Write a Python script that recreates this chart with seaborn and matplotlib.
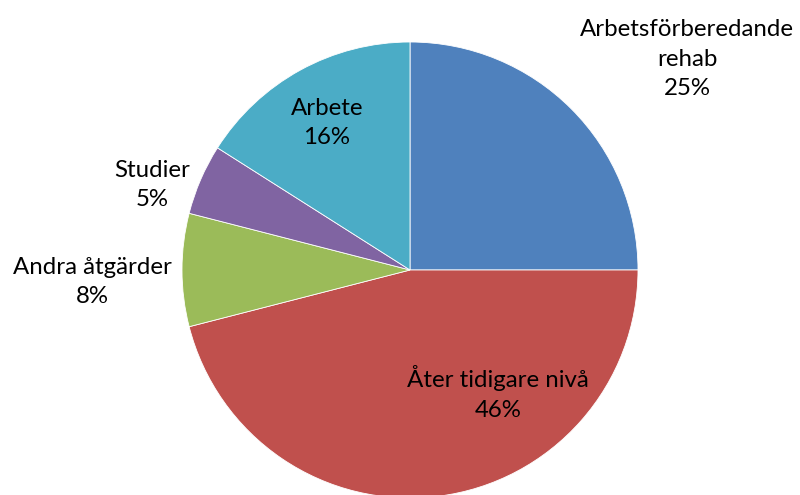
import numpy as np
import matplotlib
matplotlib.use("Agg")
import matplotlib.pyplot as plt
import seaborn as sns

# data
categories = ["Arbetsförberedande\nrehab", "Åter tidigare nivå", "Andra åtgärder", "Studier", "Arbete"]
shares = [25, 46, 8, 5, 16]
colors = ["#4F81BD", "#C0504D", "#9BBB59", "#8064A2", "#4BACC6"]

# label positions in pixels (x, y from top)
label_pos = [(687, 59), (498, 393), (92, 282), (152, 185), (327, 123)]

sns.set_theme(style="white")
plt.rcParams['font.family'] = ['Lato', 'DejaVu Sans']

W, H = 800, 495
fig = plt.figure(figsize=(W / 100, H / 100), dpi=100)
ax = fig.add_axes([0, 0, 1, 1])

cx, cy, R = 410, H - 270, 228
pal = sns.color_palette(colors)
ax.pie(shares, colors=pal, startangle=90, counterclock=False,
       center=(cx, cy), radius=R,
       wedgeprops=dict(edgecolor="white", linewidth=0.6))

for lab, val, (x, y) in zip(categories, shares, label_pos):
    ax.text(x, H - y, f"{lab}\n{val}%", ha="center", va="center",
            fontsize=17.3, color="black", linespacing=1.5)

ax.set_xlim(0, W)
ax.set_ylim(0, H)
ax.set_aspect("equal")
ax.axis("off")

fig.savefig("out.png", dpi=100)
